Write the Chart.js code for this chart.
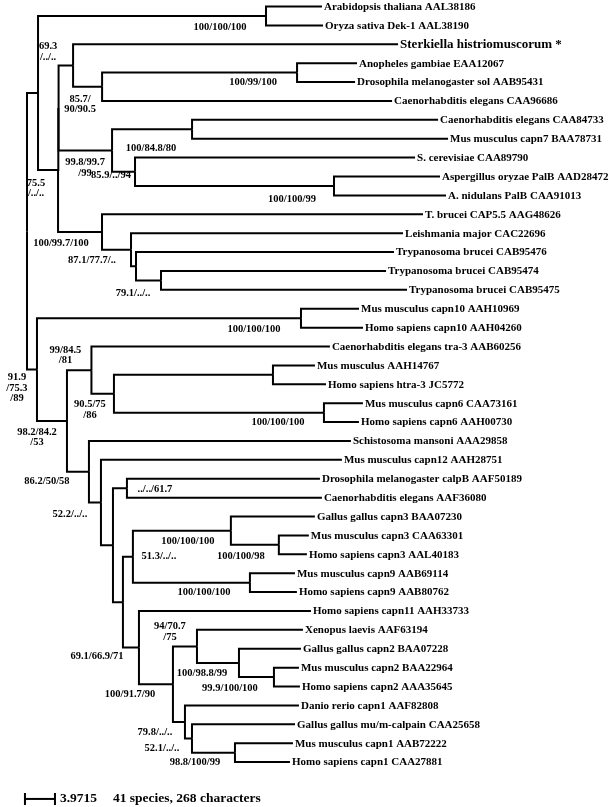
<!DOCTYPE html>
<html>
<head>
    <title>Calpain tree</title>
    <script src="https://cdn.jsdelivr.net/npm/chart.js"></script>
    <style>
        body { margin: 0; background: #fff; }
        #wrap { width: 609px; height: 807px; }
    </style>
</head>
<body>
    <div id="wrap"><canvas id="treeChart" width="609" height="807"></canvas></div>

    <script>
        // leaf names, top to bottom
        var taxa = [
            "Arabidopsis thaliana AAL38186",
            "Oryza sativa Dek-1 AAL38190",
            "Sterkiella histriomuscorum *",
            "Anopheles gambiae EAA12067",
            "Drosophila melanogaster sol AAB95431",
            "Caenorhabditis elegans CAA96686",
            "Caenorhabditis elegans CAA84733",
            "Mus musculus capn7 BAA78731",
            "S. cerevisiae CAA89790",
            "Aspergillus oryzae PalB AAD28472",
            "A. nidulans PalB CAA91013",
            "T. brucei CAP5.5 AAG48626",
            "Leishmania major CAC22696",
            "Trypanosoma brucei CAB95476",
            "Trypanosoma brucei CAB95474",
            "Trypanosoma brucei CAB95475",
            "Mus musculus capn10 AAH10969",
            "Homo sapiens capn10 AAH04260",
            "Caenorhabditis elegans tra-3 AAB60256",
            "Mus musculus AAH14767",
            "Homo sapiens htra-3 JC5772",
            "Mus musculus capn6 CAA73161",
            "Homo sapiens capn6 AAH00730",
            "Schistosoma mansoni AAA29858",
            "Mus musculus capn12 AAH28751",
            "Drosophila melanogaster calpB AAF50189",
            "Caenorhabditis elegans AAF36080",
            "Gallus gallus capn3 BAA07230",
            "Mus musculus capn3 CAA63301",
            "Homo sapiens capn3 AAL40183",
            "Mus musculus capn9 AAB69114",
            "Homo sapiens capn9 AAB80762",
            "Homo sapiens capn11 AAH33733",
            "Xenopus laevis AAF63194",
            "Gallus gallus capn2 BAA07228",
            "Mus musculus capn2 BAA22964",
            "Homo sapiens capn2 AAA35645",
            "Danio rerio capn1 AAF82808",
            "Gallus gallus mu/m-calpain CAA25658",
            "Mus musculus capn1 AAB72222",
            "Homo sapiens capn1 CAA27881"
        ];

        // topology + branch lengths (leaves are indexes into taxa, internal nodes named by a letter)
        var newick =
            "(((0:7.41,1:7.55)a:30.18," +
            "(((2:43.02,((3:7.94,4:7.68)c:25.81,5:38.39)d:3.84)e:1.92," +
            "((6:32.57,7:33.89)g:10.59,(8:37.07,(9:14.03,10:14.83)h:26.34)i:3.04)j:7.08)k:0.07," +
            "(11:42.49,(12:36.01,(13:34.15,(14:29.79,15:32.57)l:3.31)m:0.66)n:3.84)o:5.82)p:2.65)q:1.46," +
            "((16:7.68,17:8.21)r:34.95," +
            "((18:31.57,((19:5.56,20:7.02)s:21.05,(21:5.16,22:4.63)t:27.80)u:2.98)v:3.24," +
            "(23:34.68,(24:31.90,((25:25.55,26:25.81)w:1.85," +
            "(((27:11.12,(28:3.97,29:3.71)x:6.35)y:12.97,(30:5.96,31:6.22)z:15.49)A:1.32," +
            "(32:22.77,((33:14.03,(34:8.21,(35:3.31,36:3.44)B:4.63)C:5.56)D:3.18," +
            "(37:15.09,(38:13.64,(39:7.68,40:7.28)E:5.69)F:0.93)G:1.59)H:4.50)I:2.12)J:1.32)K:1.59)L:1.59)M:2.91)N:3.97)O:1.32)root;";

        // support values (NJ / MP / ML) per internal node
        var supportNodes = ["a", "e", "c", "d", "g", "j", "i", "p", "h", "o", "n", "l", "r", "v", "O", "u", "t",
                            "N", "M", "w", "L", "y", "A", "x", "z", "D", "I", "C", "H", "B", "G", "F", "E"];
        var supportText = [
            ["100/100/100"], ["69.3", "/../.."], ["100/99/100"], ["85.7/", "90/90.5"], ["100/84.8/80"],
            ["99.8/99.7", "/99"], ["85.9/../94"], ["75.5", "/../.."], ["100/100/99"], ["100/99.7/100"],
            ["87.1/77.7/.."], ["79.1/../.."], ["100/100/100"], ["99/84.5", "/81"], ["91.9", "/75.3", "/89"],
            ["90.5/75", "/86"], ["100/100/100"], ["98.2/84.2", "/53"], ["86.2/50/58"], ["../../61.7"],
            ["52.2/../.."], ["100/100/100"], ["51.3/../.."], ["100/100/98"], ["100/100/100"],
            ["94/70.7", "/75"], ["69.1/66.9/71"], ["100/98.8/99"], ["100/91.7/90"], ["99.9/100/100"],
            ["79.8/../.."], ["52.1/../.."], ["98.8/100/99"]
        ];

        var scaleBarLength = 3.9715;
        var footnote = "41 species, 268 characters";

        // where each support label sits relative to its node (px)
        var labelOffsets = [
            [-46, 11], [-25, -19], [-44, 10], [-22, 12], [-41, 19],
            [-27, 12], [-24, 3], [-22, 13], [-42, 13], [-41, 11],
            [-39, 11], [-28, 13], [-47, 11], [-26, -20], [-20, 8],
            [-24, 11], [-46, 10], [-30, 11], [-42, 10], [28, 1],
            [-31, 12], [-43, 11], [26, 0], [-38, 11], [-46, 10],
            [-27, -20], [-42, 9], [-37, 10], [-43, 10], [-44, 11],
            [-30, 10], [-30, 10], [-40, 10]
        ];

        function parseNewick(s) {
            s = s.replace(/\s+/g, "");
            var i = 0;
            function node() {
                var n = { children: [], name: "", length: 0 };
                if (s[i] === "(") {
                    i++;
                    n.children.push(node());
                    while (s[i] === ",") { i++; n.children.push(node()); }
                    i++;
                }
                while (i < s.length && ":,);".indexOf(s[i]) < 0) n.name += s[i++];
                if (s[i] === ":") {
                    i++;
                    var num = "";
                    while (i < s.length && ",);".indexOf(s[i]) < 0) num += s[i++];
                    n.length = parseFloat(num);
                }
                return n;
            }
            return node();
        }

        var tree = parseNewick(newick);
        var byName = {};
        var datasets = [];
        var blk = { borderColor: "#000", borderWidth: 2, showLine: true, pointRadius: 0,
                    borderJoinStyle: "miter", tension: 0, fill: false };

        function layout(n, depth) {
            n.depth = depth + n.length;
            byName[n.name] = n;
            if (n.children.length === 0) {
                n.y = parseInt(n.name, 10);
            } else {
                n.children.forEach(function (c) { layout(c, n.depth); });
                n.y = (n.children[0].y + n.children[n.children.length - 1].y) / 2;
            }
        }
        layout(tree, -tree.length);

        function links(n) {
            n.children.forEach(function (c) {
                datasets.push(Object.assign({
                    data: [{ x: n.depth, y: n.y }, { x: n.depth, y: c.y }, { x: c.depth, y: c.y }]
                }, blk));
                links(c);
            });
        }
        links(tree);

        // scale bar
        var barX = -0.27, barY = 41.95, tick = 0.32;
        datasets.push(Object.assign({ data: [{ x: barX, y: barY }, { x: barX + scaleBarLength, y: barY }] }, blk));
        datasets.push(Object.assign({ data: [{ x: barX, y: barY - tick }, { x: barX, y: barY + tick }] }, blk));
        datasets.push(Object.assign({ data: [{ x: barX + scaleBarLength, y: barY - tick }, { x: barX + scaleBarLength, y: barY + tick }] }, blk));

        var serif = '"Liberation Serif", "Times New Roman", serif';

        var textPlugin = {
            id: "treeText",
            afterDatasetsDraw: function (chart) {
                var ctx = chart.ctx, xs = chart.scales.x, ys = chart.scales.y;
                ctx.save();
                ctx.fillStyle = "#000";
                ctx.textBaseline = "middle";

                // leaf names
                ctx.textAlign = "left";
                taxa.forEach(function (t, i) {
                    var leaf = byName[String(i)];
                    ctx.font = (i === 2 ? "bold 13px " : "bold 11px ") + serif;
                    ctx.fillText(t, xs.getPixelForValue(leaf.depth) + 2, ys.getPixelForValue(leaf.y) + 0.5);
                });

                // support values
                ctx.textAlign = "center";
                ctx.font = "bold 10.5px " + serif;
                supportNodes.forEach(function (nm, k) {
                    var n = byName[nm];
                    var px = xs.getPixelForValue(n.depth) + labelOffsets[k][0];
                    var py = ys.getPixelForValue(n.y) + labelOffsets[k][1];
                    supportText[k].forEach(function (line, j) {
                        ctx.fillText(line, px, py + j * 10.5);
                    });
                });

                // scale bar text
                ctx.textAlign = "left";
                ctx.font = "bold 13.5px " + serif;
                var bx = xs.getPixelForValue(barX + scaleBarLength), by = ys.getPixelForValue(barY);
                ctx.fillText(String(scaleBarLength), bx + 5, by);
                ctx.fillText(footnote, bx + 58, by);
                ctx.restore();
            }
        };

        var pxPerUnit = 7.554, rootPx = 27, topPx = 6.5, rowPx = 18.89;
        var ctx = document.getElementById("treeChart").getContext("2d");
        var chart = new Chart(ctx, {
            type: "scatter",
            data: { datasets: datasets },
            options: {
                responsive: false,
                animation: false,
                events: [],
                layout: { padding: 0 },
                plugins: { legend: { display: false }, tooltip: { enabled: false } },
                scales: {
                    x: { type: "linear", display: false, min: -rootPx / pxPerUnit, max: (609 - rootPx) / pxPerUnit },
                    y: { type: "linear", display: false, reverse: true, min: -topPx / rowPx, max: (807 - topPx) / rowPx }
                }
            },
            plugins: [textPlugin]
        });
    </script>
</body>
</html>
